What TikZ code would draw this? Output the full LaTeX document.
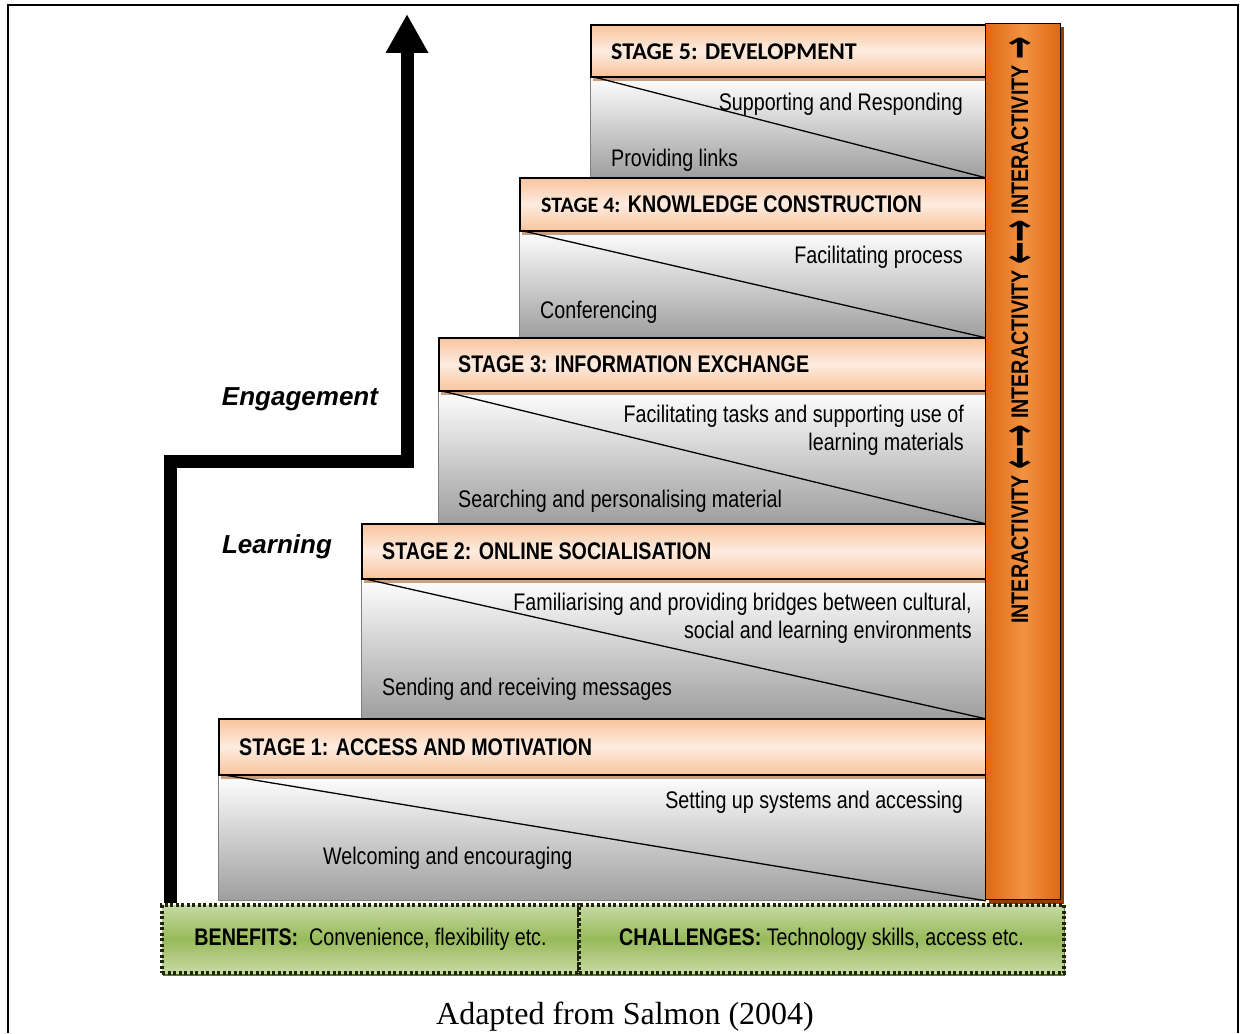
\documentclass[tikz,border=0pt]{standalone}
\usepackage{fontspec}
\setmainfont{Liberation Sans}
\newfontfamily\narrowfont[FakeStretch=0.82]{Liberation Sans}
\newfontfamily\calfont{Carlito}
\newfontfamily\arrowfont{DejaVu Sans}
\newfontfamily\capfont{Liberation Serif}
\usetikzlibrary{arrows.meta, shadows}

\definecolor{headdark}{RGB}{248,196,156}
\definecolor{headlight}{RGB}{253,236,224}
\definecolor{stripbrown}{RGB}{200,160,128}
\definecolor{bodygray}{RGB}{158,158,158}
\definecolor{bardark}{RGB}{224,104,18}
\definecolor{barlight}{RGB}{241,146,66}
\definecolor{barshadow}{RGB}{140,62,12}
\definecolor{greentop}{RGB}{198,218,164}
\definecolor{greenmid}{RGB}{152,186,90}
\definecolor{greenline}{RGB}{30,38,10}
\definecolor{greenshadow}{RGB}{96,116,52}

\tikzset{
  headbox/.style={draw=black, line width=1.6pt, top color=headdark, bottom color=headdark, middle color=headlight, anchor=north west, inner sep=0pt},
  bodybox/.style={draw=gray, line width=0.8pt, top color=white, bottom color=bodygray, anchor=north west, inner sep=0pt},
  diag/.style={draw=black, line width=1.3pt},
  headtext/.style={anchor=west, inner sep=0pt, text height=17pt, text depth=0pt, font=\narrowfont\bfseries\fontsize{24}{28}\selectfont},
  righttext/.style={anchor=base east, inner sep=0pt, align=right, font=\narrowfont\fontsize{24}{28}\selectfont},
  lefttext/.style={anchor=base west, inner sep=0pt, font=\narrowfont\fontsize{24}{28}\selectfont},
  sidelabel/.style={anchor=base, inner sep=0pt, font=\bfseries\itshape\fontsize{26}{30}\selectfont},
  greenbox/.style={draw=greenline, line width=4pt, dash pattern=on 3pt off 2.5pt, top color=greentop, bottom color=greentop, middle color=greenmid, anchor=north west, inner sep=0pt, font=\narrowfont\fontsize{24}{28}\selectfont, drop shadow={shadow xshift=1pt, shadow yshift=-3pt, fill=greenshadow, opacity=1}},
  bigarrow/.style={line width=13pt, line join=miter, -{Triangle[width=40pt, length=39pt]}}
}
\newcommand{\duoarrow}{\raisebox{-7pt}{\scalebox{1}[1.8]{\arrowfont\bfseries\fontsize{27}{27}\selectfont ←→}}}
\newcommand{\uniarrow}{\raisebox{-7pt}{\scalebox{1}[1.8]{\arrowfont\bfseries\fontsize{27}{27}\selectfont →}}}

\begin{document}
\begin{tikzpicture}[x=1pt, y=-1pt]
    \useasboundingbox (0,0) rectangle (1241,1033);
    \draw[line width=2pt] (8,1033) -- (8,5) -- (1238,5) -- (1238,1033);

    % stage 5
    \node[bodybox, minimum width=395pt, minimum height=101pt] (body5) at (590,76) {};
    \fill[stripbrown] ([xshift=3pt]body5.north west) rectangle ([yshift=-5pt]body5.north east);
    \draw[diag] (body5.north west) -- (body5.south east);
    \node[headbox, minimum width=395pt, minimum height=52pt] (head5) at (590,24) {};
    \node[headtext, font=\calfont\bfseries\fontsize{24}{28}\selectfont] (title5) at ([xshift=21pt]head5.west) {STAGE 5: DEVELOPMENT};
    \node[righttext] (upper5) at (963,110) {Supporting and Responding};
    \node[lefttext] (lower5) at (611,166) {Providing links};

    % stage 4
    \node[bodybox, minimum width=466pt, minimum height=107pt] (body4) at (519,230) {};
    \fill[stripbrown] ([xshift=3pt]body4.north west) rectangle ([yshift=-5pt]body4.north east);
    \draw[diag] (body4.north west) -- (body4.south east);
    \node[headbox, minimum width=466pt, minimum height=53pt] (head4) at (519,177) {};
    \node[headtext] (title4) at ([xshift=22pt]head4.west) {{\calfont\fontsize{22}{26}\selectfont STAGE 4:} KNOWLEDGE CONSTRUCTION};
    \node[righttext] (upper4) at (963,263) {Facilitating process};
    \node[lefttext] (lower4) at (540,318) {Conferencing};

    % stage 3
    \node[bodybox, minimum width=547pt, minimum height=133pt] (body3) at (438,390) {};
    \fill[stripbrown] ([xshift=3pt]body3.north west) rectangle ([yshift=-5pt]body3.north east);
    \draw[diag] (body3.north west) -- (body3.south east);
    \node[headbox, minimum width=547pt, minimum height=53pt] (head3) at (438,337) {};
    \node[headtext] (title3) at ([xshift=20pt]head3.west) {STAGE 3: INFORMATION EXCHANGE};
    \node[righttext] (upper3) at (964,450) {Facilitating tasks and supporting use of\\learning materials};
    \node[lefttext] (lower3) at (458,507) {Searching and personalising material};

    % stage 2
    \node[bodybox, minimum width=624pt, minimum height=140pt] (body2) at (361,578) {};
    \fill[stripbrown] ([xshift=3pt]body2.north west) rectangle ([yshift=-5pt]body2.north east);
    \draw[diag] (body2.north west) -- (body2.south east);
    \node[headbox, minimum width=624pt, minimum height=55pt] (head2) at (361,523) {};
    \node[headtext] (title2) at ([xshift=21pt]head2.west) {STAGE 2: ONLINE SOCIALISATION};
    \node[righttext] (upper2) at (972,638) {Familiarising and providing bridges between cultural,\\social and learning environments};
    \node[lefttext] (lower2) at (382,695) {Sending and receiving messages};

    % stage 1
    \node[bodybox, minimum width=767pt, minimum height=126pt] (body1) at (218,774) {};
    \fill[stripbrown] ([xshift=3pt]body1.north west) rectangle ([yshift=-5pt]body1.north east);
    \draw[diag] (body1.north west) -- (body1.south east);
    \node[headbox, minimum width=767pt, minimum height=56pt] (head1) at (218,718) {};
    \node[headtext] (title1) at ([xshift=21pt]head1.west) {STAGE 1: ACCESS AND MOTIVATION};
    \node[righttext] (upper1) at (963,808) {Setting up systems and accessing};
    \node[lefttext] (lower1) at (323,864) {Welcoming and encouraging};

    % interactivity bar
    \node[draw=black, line width=1pt, left color=bardark, right color=bardark, middle color=barlight, anchor=north west, inner sep=0pt, minimum width=75pt, minimum height=876pt, drop shadow={shadow xshift=3pt, shadow yshift=-4pt, fill=barshadow, opacity=1}] (bar) at (985,23) {};
    \node[rotate=90, anchor=base west, inner sep=0pt, font=\narrowfont\bfseries\fontsize{24}{28}\selectfont] (inter) at (1028,624)
        {INTERACTIVITY \duoarrow{} INTERACTIVITY \duoarrow{} INTERACTIVITY \uniarrow};

    % benefits and challenges
    \node[greenbox, minimum width=417pt, minimum height=68pt] (benefits) at (160,903) {\textbf{BENEFITS:}\ \ Convenience, flexibility etc.};
    \node[greenbox, minimum width=485pt, minimum height=68pt] (challenges) at (577,903) {\textbf{CHALLENGES:} Technology skills, access etc.};

    % engagement arrow
    \coordinate (start) at (170,903);
    \coordinate (step) at (407,461);
    \coordinate (tip) at (407,14);
    \draw[bigarrow] (start) |- (step) -- (tip);
    \node[sidelabel] (engage) at (300,405) {Engagement};
    \node[sidelabel] (learn) at (277,553) {Learning};

    \node[anchor=base, inner sep=0pt, font=\capfont\fontsize{32}{36}\selectfont] (caption) at (625,1024) {Adapted from Salmon (2004)};
\end{tikzpicture}
\end{document}
